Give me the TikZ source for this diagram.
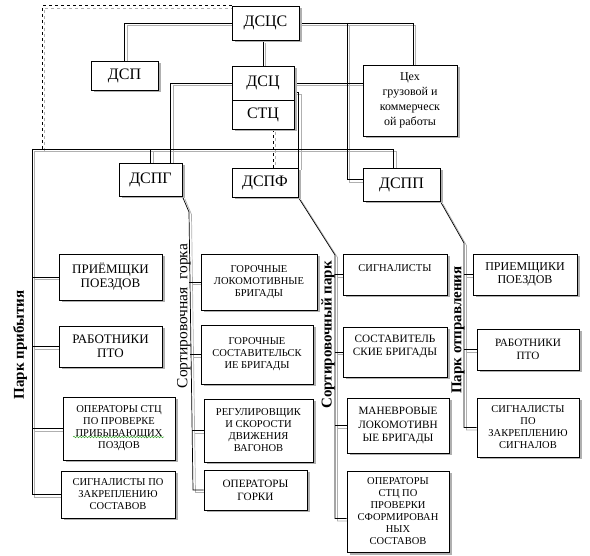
\documentclass[tikz,border=0pt]{standalone}
\usepackage{fontspec}
\setmainfont{Liberation Serif}
\usetikzlibrary{shadows, backgrounds, decorations.pathmorphing}
\definecolor{ink}{HTML}{000000}
\definecolor{shade}{HTML}{B0B0B0}
\definecolor{squig}{HTML}{3FA535}
\tikzset{
  font=\fontsize{10.5}{12}\selectfont,
  %
  box/.style={
    draw=ink, line width=0.7pt, fill=white, inner sep=1pt, align=center, text=ink,
    drop shadow={shadow xshift=2.5pt, shadow yshift=-2.5pt, fill=shade, opacity=1},
  },
  head/.style={box, font=\fontsize{16}{18}\selectfont},
  shop/.style={box, font=\fontsize{12}{15}\selectfont},
  job/.style={box},
  jobmid/.style={box, font=\fontsize{11.2}{13.3}\selectfont},
  jobbig/.style={box, font=\fontsize{13}{14}\selectfont},
  %
  link/.style={draw=ink, line width=0.7pt},
  linkdash/.style={link, dashed},
  spell/.style={draw=squig, line width=0.5pt,
    decorate, decoration={snake, amplitude=0.8pt, segment length=3pt}},
  %
  side/.style={rotate=90, font=\fontsize{15}{18}\selectfont\bfseries, text=ink, inner sep=0pt},
  sidelight/.style={side, font=\fontsize{15.5}{18}\selectfont},
}

% every connector of the chart, drawn once as shade and once in ink
\newcommand\chartlinks{
  \draw[link] (dscs.west) -| (dsp.north);
  \draw[link] (dsc.north) -- (dsc.north |- dscs.south);
  \draw[link] (dscs.east) -| ([xshift=3pt]ceh.north);
  \draw[link] (dsc.east) -- (dsc.east -| ceh.west);
  \draw[link] (tap) |- ([yshift=5pt]dspp.west);
  \draw[link] (dsc.west) -| ([xshift=20pt]dspg.north);
  \draw[link] ([yshift=-9pt]dsc.east) -| (dspf.north east);
  \draw[linkdash] ([xshift=10pt]stc.south) -- ([xshift=10pt]stc.south |- dspf.north);
  \draw[linkdash] (dscs.north west) -| (busD);
  %
  \draw[link] (busL) -| ([xshift=-8pt]dspp.north);
  \draw[link] (dspg.north) -- (dspg.north |- busL);
  % arrival park
  \draw[link] (busL) |- (a4.west);
  \foreach \b in {a1,a2,a3} { \draw[link] (\b.west) -- (\b.west -| busL); }
  % hump
  \draw[link] (dspg.south east) -- (gTop) -- (gBot) -- (h4.west);
  \draw[link] (h1.west) -- (h1.west -| gTop);
  \draw[link] (h2.west) -- ([xshift=1pt]h2.west -| gTop);
  \draw[link] (h3.west) -- ([xshift=3pt]h3.west -| gTop);
  % sorting park
  \draw[link] (dspf.south east) -- (fTop) |- ([yshift=-7pt]s4.west);
  \foreach \b in {s1,s2,s3} { \draw[link] (\b.west) -- (\b.west -| fTop); }
  % departure park
  \draw[link] (dspp.south east) -- (pTop) |- (p3.west);
  \foreach \b in {p1,p2} { \draw[link] (\b.west) -- (\b.west -| pTop); }
}

\begin{document}
\begin{tikzpicture}[x=1pt, y=-1pt]
  \useasboundingbox (0,0) rectangle (590,556);

  % --- management ---------------------------------------------------------
  \node[head, minimum width=67, minimum height=34] (dscs) at (265.5,23) {ДСЦС};
  \node[head, minimum width=67, minimum height=29] (dsp) at (124.5,75.5) {ДСП};
  \node[head, minimum width=62, minimum height=34] (dsc) at (263,83) {ДСЦ};
  \node[head, minimum width=62, minimum height=29] (stc) at (263,114.5) {СТЦ};
  \node[shop, minimum width=94, minimum height=71] (ceh) at (410,100.5)
    {Цех\\грузовой и\\коммерческ\\ой работы};

  \node[head, minimum width=63, minimum height=33] (dspg) at (150.5,179.5) {ДСПГ};
  \node[head, minimum width=66, minimum height=29] (dspf) at (265,182.5) {ДСПФ};
  \node[head, minimum width=77, minimum height=33] (dspp) at (401.5,184.5) {ДСПП};

  % --- arrival park -------------------------------------------------------
  \node[jobbig, minimum width=103, minimum height=46] (a1) at (110.5,277) {ПРИЁМЩКИ\\ПОЕЗДОВ};
  \node[jobbig, minimum width=103, minimum height=41] (a2) at (110.5,346.5) {РАБОТНИКИ\\ПТО};
  \node[job, minimum width=112, minimum height=63] (a3) at (119,428.5)
    {ОПЕРАТОРЫ СТЦ\\ПО ПРОВЕРКЕ\\ПРИБЫВАЮЩИХ\\ПОЗДОВ};
  \node[job, minimum width=114, minimum height=47] (a4) at (118,494.5)
    {СИГНАЛИСТЫ ПО\\ЗАКРЕПЛЕНИЮ\\СОСТАВОВ};

  % --- hump ---------------------------------------------------------------
  \node[job, minimum width=116, minimum height=56] (h1) at (259,282)
    {ГОРОЧНЫЕ\\ЛОКОМОТИВНЫЕ\\БРИГАДЫ};
  \node[job, minimum width=112, minimum height=59] (h2) at (257,354.5)
    {ГОРОЧНЫЕ\\СОСТАВИТЕЛЬСК\\ИЕ БРИГАДЫ};
  \node[job, minimum width=109, minimum height=63] (h3) at (258.5,430.5)
    {РЕГУЛИРОВЩИК\\И СКОРОСТИ\\ДВИЖЕНИЯ\\ВАГОНОВ};
  \node[jobmid, minimum width=103, minimum height=40] (h4) at (255.5,490) {ОПЕРАТОРЫ\\ГОРКИ};

  % --- sorting park -------------------------------------------------------
  \node[job, minimum width=104, minimum height=41] (s1) at (395,274.5) {СИГНАЛИСТЫ\\~};
  \node[jobmid, minimum width=104, minimum height=50] (s2) at (395,352)
    {СОСТАВИТЕЛЬ\\СКИЕ БРИГАДЫ\\~};
  \node[jobmid, minimum width=102, minimum height=55] (s3) at (398,425.5)
    {МАНЕВРОВЫЕ\\ЛОКОМОТИВН\\ЫЕ БРИГАДЫ};
  \node[job, minimum width=102, minimum height=81] (s4) at (398,511.5)
    {ОПЕРАТОРЫ\\СТЦ ПО\\ПРОВЕРКИ\\СФОРМИРОВАН\\НЫХ\\СОСТАВОВ};

  % --- departure park -----------------------------------------------------
  \node[box, font=\fontsize{12}{13.3}\selectfont, minimum width=104, minimum height=41] (p1)
    at (525,274.5) {ПРИЕМЩИКИ\\ПОЕЗДОВ};
  \node[jobmid, minimum width=102, minimum height=41] (p2) at (528,349.5) {РАБОТНИКИ\\ПТО};
  \node[job, minimum width=102, minimum height=59] (p3) at (528,427.5)
    {СИГНАЛИСТЫ\\ПО\\ЗАКРЕПЛЕНИЮ\\СИГНАЛОВ};

  % --- park names ---------------------------------------------------------
  \node[side] (arrname) at (20,345) {Парк прибытия};
  \node[sidelight] (humpname) at (184,316) {Сортировочная\ \ горка};
  \node[side] (sortname) at (328,335) {Сортировочный парк};
  \node[side] (depname) at (458,330) {Парк отправления};

  \draw[spell] ([xshift=-46pt, yshift=-8.5pt]a3.center) -- ([xshift=45pt, yshift=-8.5pt]a3.center);

  % --- connectors, behind the boxes --------------------------------------
  \coordinate (busL) at (32,149);
  \coordinate (busD) at (42,149);
  \coordinate (tap) at (347,23);
  \coordinate (gTop) at (189,212);
  \coordinate (gBot) at (193,490);
  \coordinate (fTop) at (335,255);
  \coordinate (pTop) at (464,243);

  \begin{scope}[on background layer]
    \begin{scope}[transform canvas={xshift=2.5pt, yshift=-2.5pt},
                  link/.style={draw=shade, line width=0.7pt}]
      \chartlinks
    \end{scope}
    \chartlinks
  \end{scope}

\end{tikzpicture}
\end{document}
